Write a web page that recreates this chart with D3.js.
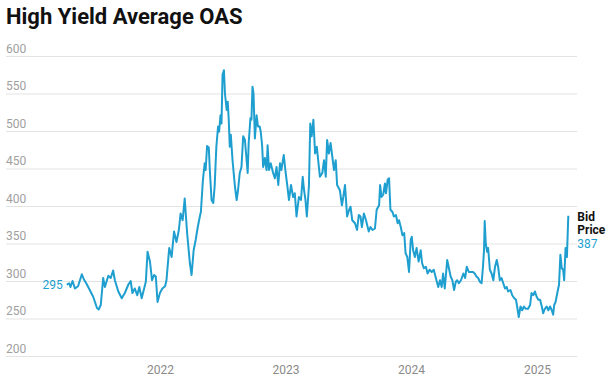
<!DOCTYPE html>
<html><head><meta charset="utf-8">
<script src="https://cdn.jsdelivr.net/npm/d3@7"></script>
<style>
html,body{margin:0;padding:0;background:#fff;}
svg{display:block;font-family:Roboto,"Noto Sans",sans-serif;}
</style></head>
<body>
<svg id="chart" width="607" height="384"></svg>
<script>
const title = "High Yield Average OAS";
const seriesName = ["Bid", "Price"];
const yTicks = [200, 250, 300, 350, 400, 450, 500, 550, 600];
const xTickYears = [2022, 2023, 2024, 2025];
const dates = [
"2021-04-05","2021-04-12","2021-04-16","2021-04-22","2021-04-29","2021-05-08","2021-05-19","2021-05-25","2021-06-02","2021-06-11",
"2021-06-21","2021-07-02","2021-07-07","2021-07-13","2021-07-20","2021-07-25","2021-08-04","2021-08-11","2021-08-18","2021-08-23",
"2021-09-02","2021-09-12","2021-09-21","2021-10-01","2021-10-08","2021-10-13","2021-10-20","2021-10-27","2021-11-02","2021-11-09",
"2021-11-15","2021-11-21","2021-11-26","2021-12-03","2021-12-09","2021-12-15","2021-12-20","2021-12-25","2022-01-01","2022-01-08",
"2022-01-16","2022-01-20","2022-01-28","2022-02-04","2022-02-11","2022-02-18","2022-02-25","2022-03-02","2022-03-08","2022-03-14",
"2022-03-21","2022-03-29","2022-04-03","2022-04-09","2022-04-15","2022-04-21","2022-04-27","2022-04-30","2022-05-06","2022-05-11",
"2022-05-14","2022-05-18","2022-05-23","2022-05-26","2022-05-31","2022-06-05","2022-06-09","2022-06-14","2022-06-19","2022-06-22",
"2022-06-26","2022-06-29","2022-07-02","2022-07-06","2022-07-09","2022-07-14","2022-07-17","2022-07-20","2022-07-23","2022-07-26",
"2022-07-31","2022-08-07","2022-08-12","2022-08-16","2022-08-21","2022-08-26","2022-08-31","2022-09-05","2022-09-10","2022-09-13",
"2022-09-16","2022-09-21","2022-09-24","2022-09-27","2022-09-30","2022-10-04","2022-10-09","2022-10-13","2022-10-18","2022-10-21",
"2022-10-25","2022-10-28","2022-11-02","2022-11-07","2022-11-10","2022-11-14","2022-11-19","2022-11-26","2022-12-01","2022-12-06",
"2022-12-11","2022-12-16","2022-12-20","2022-12-27","2023-01-01","2023-01-06","2023-01-11","2023-01-17","2023-01-23","2023-01-28",
"2023-02-02","2023-02-09","2023-02-15","2023-02-20","2023-02-24","2023-02-28","2023-03-04","2023-03-10","2023-03-14","2023-03-18",
"2023-03-23","2023-03-28","2023-04-02","2023-04-06","2023-04-11","2023-04-18","2023-04-23","2023-04-28","2023-05-02","2023-05-07",
"2023-05-12","2023-05-17","2023-05-22","2023-05-27","2023-05-31","2023-06-08","2023-06-14","2023-06-18","2023-06-23","2023-06-29",
"2023-07-05","2023-07-09","2023-07-14","2023-07-22","2023-07-28","2023-08-02","2023-08-07","2023-08-11","2023-08-17","2023-08-23",
"2023-08-31","2023-09-05","2023-09-11","2023-09-18","2023-09-23","2023-09-30","2023-10-03","2023-10-07","2023-10-12","2023-10-17",
"2023-10-20","2023-10-25","2023-10-29","2023-11-02","2023-11-08","2023-11-12","2023-11-18","2023-11-23","2023-11-27","2023-12-02",
"2023-12-07","2023-12-12","2023-12-16","2023-12-21","2023-12-26","2023-12-31","2024-01-03","2024-01-07","2024-01-12","2024-01-17",
"2024-01-23","2024-01-29","2024-02-02","2024-02-07","2024-02-13","2024-02-18","2024-02-24","2024-03-01","2024-03-07","2024-03-13",
"2024-03-20","2024-03-25","2024-03-30","2024-04-03","2024-04-08","2024-04-15","2024-04-20","2024-04-25","2024-04-30","2024-05-05",
"2024-05-10","2024-05-14","2024-05-19","2024-05-25","2024-06-01","2024-06-06","2024-06-11","2024-06-17","2024-06-23","2024-06-29",
"2024-07-04","2024-07-09","2024-07-14","2024-07-19","2024-07-24","2024-07-28","2024-07-31","2024-08-02","2024-08-05","2024-08-09",
"2024-08-12","2024-08-17","2024-08-22","2024-08-27","2024-09-01","2024-09-06","2024-09-10","2024-09-15","2024-09-20","2024-09-25",
"2024-09-30","2024-10-05","2024-10-09","2024-10-16","2024-10-21","2024-10-27","2024-11-01","2024-11-06","2024-11-09","2024-11-14",
"2024-11-19","2024-11-24","2024-11-29","2024-12-06","2024-12-12","2024-12-16","2024-12-21","2024-12-26","2024-12-31","2025-01-05",
"2025-01-10","2025-01-15","2025-01-19","2025-01-24","2025-01-29","2025-02-03","2025-02-08","2025-02-13","2025-02-17","2025-02-20",
"2025-02-24","2025-03-01","2025-03-06","2025-03-10","2025-03-14","2025-03-18","2025-03-21","2025-03-25","2025-03-29","2025-04-02"
];
const values = [
295,297,292,300,290,293,309,302,296,288,
279,264,262,268,304,292,307,304,314,301,
286,277,284,295,300,284,290,281,292,277,
288,299,339,326,301,308,306,272,284,290,
293,301,344,332,366,352,368,390,381,410,
364,324,308,341,355,372,386,392,435,457,
448,480,478,448,408,404,426,479,506,499,
521,510,575,581,550,528,539,515,479,495,
461,426,408,421,444,452,493,488,461,444,
484,517,515,559,550,490,521,506,506,499,
481,452,464,448,481,448,457,444,437,452,
428,457,448,468,446,428,408,428,412,417,
386,412,408,439,421,408,386,426,510,493,
515,470,479,461,439,444,461,439,488,470,
484,466,448,461,428,421,401,412,428,386,
395,399,381,377,368,388,386,372,390,381,
366,372,368,370,395,401,428,412,415,430,
417,435,437,395,392,386,388,377,381,372,
361,364,337,332,312,355,359,341,332,344,
326,341,324,317,319,310,315,312,315,304,
292,301,292,310,290,328,317,306,301,288,
299,301,297,301,310,304,319,312,312,312,
310,306,304,299,297,319,341,380,350,339,
344,315,310,301,319,328,319,301,304,297,
290,292,286,288,281,277,275,261,252,266,
261,266,263,263,268,284,281,286,279,275,
275,266,257,263,266,261,266,261,255,268,
272,284,295,335,317,315,301,344,332,387
];

const W = 607, H = 384;
const plotLeft = 6, plotRight = 577;
const lineX0 = 66.7, lineX1 = 568.3;
const yTop = 56, yBottom = 356;
const blue = "#1f9fcf";

const parse = d3.timeParse("%Y-%m-%d");
const data = dates.map((d, i) => ({date: parse(d), value: values[i]}));

const svg = d3.select("#chart");

const x = d3.scaleTime()
  .domain(d3.extent(data, d => d.date))
  .range([lineX0, lineX1]);
const y = d3.scaleLinear()
  .domain([d3.min(yTicks), d3.max(yTicks)])
  .range([yBottom, yTop]);

// title
svg.append("text")
  .attr("x", 6).attr("y", 24)
  .attr("font-size", 22).attr("font-weight", 700)
  .attr("fill", "#111")
  .text(title);

// gridlines + y labels
const yAxis = d3.axisLeft(y).tickValues(yTicks).tickSize(0).tickFormat(d3.format("d"));
const gy = svg.append("g").attr("transform", `translate(${plotLeft},0)`).call(yAxis);
gy.select(".domain").remove();
gy.selectAll(".tick line")
  .attr("x2", plotRight - plotLeft)
  .attr("stroke", "#e3e3e3").attr("stroke-width", 1);
gy.selectAll(".tick text")
  .attr("x", 0).attr("dy", -4)
  .attr("text-anchor", "start")
  .attr("font-size", 12)
  .attr("font-family", "Roboto, sans-serif")
  .attr("fill", "#a0a0a0");
gy.selectAll(".tick text").attr("dominant-baseline", "auto").attr("y", 0);

// x axis labels
const xAxis = d3.axisBottom(x)
  .tickValues(xTickYears.map(yr => new Date(yr, 0, 1)))
  .tickSize(0)
  .tickFormat(d3.timeFormat("%Y"));
const gx = svg.append("g").attr("transform", `translate(0,${yBottom})`).call(xAxis);
gx.select(".domain").remove();
gx.selectAll(".tick text")
  .attr("y", 18).attr("dy", 0)
  .attr("font-size", 12)
  .attr("font-family", "Roboto, sans-serif")
  .attr("fill", "#8a8a8a");

// line
const line = d3.line().x(d => x(d.date)).y(d => y(d.value));
svg.append("path")
  .datum(data)
  .attr("fill", "none")
  .attr("stroke", blue)
  .attr("stroke-width", 2)
  .attr("stroke-linejoin", "round")
  .attr("d", line);

// start label
const first = data[0], last = data[data.length - 1];
svg.append("text")
  .attr("x", x(first.date) - 4).attr("y", y(first.value) + 4)
  .attr("text-anchor", "end")
  .attr("font-size", 12)
  .attr("fill", blue)
  .text(first.value);

// end label
const endX = x(last.date) + 9;
const endG = svg.append("g").attr("font-size", 12);
seriesName.forEach((t, i) => {
  endG.append("text")
    .attr("x", endX).attr("y", y(last.value) + 5 + i * 13.5)
    .attr("font-weight", 700).attr("fill", "#111")
    .text(t);
});
endG.append("text")
  .attr("x", endX).attr("y", y(last.value) + 5 + 2 * 13.5)
  .attr("fill", blue)
  .text(last.value);
</script>
</body></html>
